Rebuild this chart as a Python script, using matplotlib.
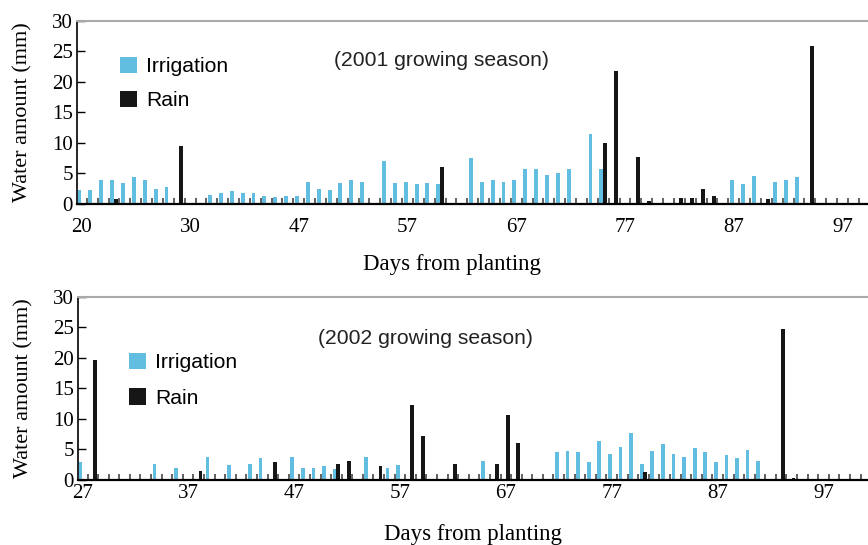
import numpy as np
import matplotlib
matplotlib.use("Agg")
import matplotlib.pyplot as plt

# 2001 season: slot index on the category axis -> amount (mm)
labels_2001 = ["20", "30", "47", "57", "67", "77", "87", "97"]
irr01_slot = [0, 1, 2, 3, 4, 5, 6, 7, 8, 12, 13, 14, 15, 16, 17, 18, 19, 20, 21, 22, 23, 24,
              25, 26, 28, 29, 30, 31, 32, 33, 36, 37, 38, 39, 40, 41, 42, 43, 44, 45, 47, 48,
              60, 61, 62, 64, 65, 66]
irr01_mm = [2.35, 2.35, 4.0, 4.0, 3.5, 4.5, 4.0, 2.5, 2.85, 1.4, 1.75, 2.2, 1.75, 1.85, 1.35, 1.2,
            1.35, 1.35, 3.65, 2.5, 2.35, 3.5, 4.0, 3.65, 7.1, 3.5, 3.65, 3.35, 3.5, 3.35, 7.45, 3.65,
            4.0, 3.65, 4.0, 5.65, 5.65, 4.8, 5.15, 5.8, 11.4, 5.65, 4.0, 3.35, 4.65, 3.65, 4.0, 4.5]
rain01_slot = [3, 9, 10, 33, 48, 49, 51, 52, 54, 55, 56, 57, 58, 63, 67]
rain01_mm = [0.8, 9.5, 0.2, 6.1, 10.0, 21.8, 7.7, 0.5, 0.2, 1.0, 1.0, 2.5, 1.3, 0.8, 25.9]

# 2002 season
labels_2002 = ["27", "37", "47", "57", "67", "77", "87", "97"]
irr02_slot = [0, 7, 9, 12, 14, 16, 17, 20, 21, 22, 23, 24, 27, 29, 30, 38, 45, 46, 47, 48, 49,
              50, 51, 52, 53, 54, 55, 56, 57, 58, 59, 60, 61, 62, 63, 64]
irr02_mm = [3.0, 2.65, 2.0, 3.8, 2.5, 2.65, 3.65, 3.8, 2.0, 2.0, 2.35, 1.8, 3.75, 1.95, 2.45, 3.1,
            4.6, 4.75, 4.6, 2.95, 6.4, 4.25, 5.4, 7.7, 2.6, 4.75, 5.9, 4.25, 3.75, 5.25, 4.6, 2.95,
            4.1, 3.6, 4.9, 3.1]
rain02_slot = [1, 11, 18, 24, 25, 28, 31, 32, 35, 39, 40, 41, 53, 66, 67]
rain02_mm = [19.6, 1.5, 3.0, 2.65, 3.1, 2.3, 12.3, 7.2, 2.6, 2.6, 10.6, 6.0, 1.3, 24.7, 0.3]

BLUE = "#62bee1"
BLACK = "#161616"
SERIF = "Liberation Serif"
SANS = "Liberation Sans"

W, H = 868, 545
fig = plt.figure(figsize=(W / 100, H / 100), dpi=100)


def panel(rect, xmax, irr_x, irr_y, rain_x, rain_y, xlabels, title, title_xy,
          leg_xy, leg_space, xlab_xy, tick_pad):
    ax = fig.add_axes(rect)
    ax.bar(np.array(irr_x) - 0.17, irr_y, width=0.36, color=BLUE, label="Irrigation")
    ax.bar(np.array(rain_x) + 0.17, rain_y, width=0.36, color=BLACK, label="Rain")
    ax.set_xlim(-0.4, xmax)
    ax.set_ylim(0, 30)
    ax.set_yticks(range(0, 31, 5))
    ax.set_xticks(range(0, 10 * len(xlabels), 10))
    ax.set_xticklabels(xlabels)
    ax.set_xticks(np.arange(0.5, xmax, 1), minor=True)
    ax.tick_params(axis="x", which="major", length=0, pad=tick_pad, labelsize=15)
    ax.tick_params(axis="x", which="minor", direction="in", length=4, width=1.3, color="#555555")
    ax.tick_params(axis="y", direction="in", length=6, width=1, pad=3, labelsize=15)
    for t in ax.get_xticklabels() + ax.get_yticklabels():
        t.set_fontfamily(SERIF)
    ax.spines["right"].set_visible(False)
    ax.spines["top"].set_color("#aaaaaa")
    ax.spines["top"].set_linewidth(1.5)
    ax.spines["left"].set_linewidth(1.2)
    ax.spines["bottom"].set_linewidth(1.6)
    ax.set_ylabel("Water amount (mm)", fontfamily=SERIF, fontsize=16, labelpad=14)
    ax.set_xlabel("Days from planting", fontfamily=SERIF, fontsize=16.5)
    ax.xaxis.set_label_coords(*xlab_xy)
    fig.text(title_xy[0] / W, 1 - title_xy[1] / H, title, fontfamily=SANS,
             fontsize=15.2, va="center", ha="left", color="#222222")
    ax.legend(loc="upper left", bbox_to_anchor=(leg_xy[0] / W, 1 - leg_xy[1] / H),
              bbox_transform=fig.transFigure, frameon=False, borderpad=0,
              borderaxespad=0, handlelength=0.8, handleheight=0.8, handletextpad=0.45,
              labelspacing=leg_space, prop={"family": SANS, "size": 15.2})
    return ax


panel([77 / W, 1 - 204 / H, (W - 77) / W, 183.3 / H], 72.35,
      irr01_slot, irr01_mm, rain01_slot, rain01_mm, labels_2001,
      "(2001 growing season)", (334, 60), (120, 57), 0.69, (0.474, -0.273), 10)

panel([78 / W, 1 - 480 / H, (W - 78) / W, 183.3 / H], 74.2,
      irr02_slot, irr02_mm, rain02_slot, rain02_mm, labels_2002,
      "(2002 growing season)", (318, 338), (129, 353), 0.76, (0.5, -0.24), 3)

fig.savefig("out.png", dpi=100)
